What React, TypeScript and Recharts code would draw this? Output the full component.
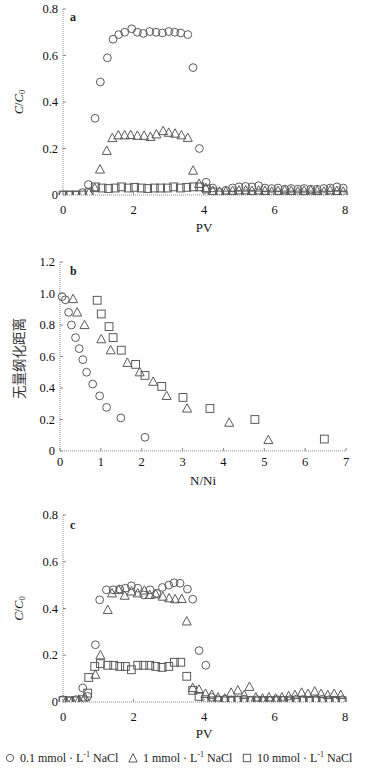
import React from 'react';
import { ScatterChart, Scatter, XAxis, YAxis } from 'recharts';

// ---------- Panel a ----------
const aCirclePV = [0, 0.18, 0.37, 0.55, 0.72, 0.91, 1.06, 1.26, 1.42, 1.58, 1.75, 1.95, 2.11, 2.28, 2.46, 2.64, 2.82, 3.0, 3.17, 3.34, 3.54, 3.69, 3.87, 4.06, 4.25, 4.44, 4.62, 4.81, 4.99, 5.18, 5.36, 5.55, 5.73, 5.92, 6.10, 6.29, 6.47, 6.66, 6.84, 7.03, 7.21, 7.40, 7.58, 7.77, 7.95];
const aCircleC = [0, 0, 0, 0.01, 0.045, 0.33, 0.486, 0.59, 0.67, 0.69, 0.70, 0.715, 0.70, 0.695, 0.703, 0.70, 0.697, 0.703, 0.70, 0.697, 0.69, 0.548, 0.20, 0.055, 0.03, 0.012, 0.02, 0.03, 0.035, 0.037, 0.035, 0.04, 0.03, 0.028, 0.03, 0.025, 0.028, 0.025, 0.028, 0.025, 0.025, 0.028, 0.03, 0.035, 0.03];
const aTrianglePV = [0.74, 0.9, 1.05, 1.24, 1.40, 1.57, 1.75, 1.92, 2.11, 2.30, 2.48, 2.65, 2.84, 3.0, 3.18, 3.36, 3.54, 3.69, 3.86, 4.05, 4.25, 4.44, 4.62, 4.81, 4.99, 5.18, 5.36, 5.55, 5.73, 5.92, 6.10, 6.29, 6.47, 6.66, 6.84, 7.03, 7.21, 7.40, 7.58, 7.77, 7.95];
const aTriangleC = [0.01, 0.03, 0.11, 0.19, 0.245, 0.257, 0.257, 0.258, 0.255, 0.255, 0.25, 0.261, 0.275, 0.268, 0.264, 0.257, 0.246, 0.105, 0.048, 0.03, 0.018, 0.015, 0.015, 0.018, 0.02, 0.02, 0.018, 0.02, 0.018, 0.015, 0.018, 0.02, 0.018, 0.015, 0.018, 0.02, 0.018, 0.015, 0.02, 0.018, 0.015];
const aSquarePV = [0, 0.18, 0.37, 0.55, 0.74, 0.92, 1.11, 1.29, 1.48, 1.66, 1.85, 2.03, 2.22, 2.40, 2.59, 2.77, 2.96, 3.14, 3.33, 3.51, 3.70, 3.88, 4.07, 4.25, 4.44, 4.62, 4.81, 4.99, 5.18, 5.36, 5.55, 5.73, 5.92, 6.10, 6.29, 6.47, 6.66, 6.84, 7.03, 7.21, 7.40, 7.58, 7.77, 7.95];
const aSquareC = [0, 0, 0, 0, 0.01, 0.035, 0.03, 0.028, 0.03, 0.035, 0.03, 0.033, 0.03, 0.028, 0.03, 0.03, 0.03, 0.035, 0.03, 0.033, 0.035, 0.035, 0.026, 0.013, 0, 0, 0, 0, 0, 0, 0, 0, 0, 0, 0, 0, 0, 0, 0, 0, 0, 0, 0, 0];

// ---------- Panel b ----------
const bCircleX = [0.05, 0.13, 0.21, 0.28, 0.38, 0.47, 0.56, 0.65, 0.80, 0.97, 1.14, 1.49, 2.08];
const bCircleY = [0.98, 0.96, 0.88, 0.80, 0.72, 0.65, 0.58, 0.50, 0.425, 0.35, 0.277, 0.21, 0.087];
const bTriangleX = [0.32, 0.42, 0.60, 1.01, 1.24, 1.65, 1.95, 2.28, 2.61, 3.11, 4.14, 5.10];
const bTriangleY = [0.965, 0.88, 0.80, 0.71, 0.64, 0.56, 0.50, 0.44, 0.35, 0.27, 0.18, 0.07];
const bSquareX = [0.91, 1.01, 1.20, 1.30, 1.50, 1.85, 2.08, 2.49, 3.01, 3.67, 4.77, 6.47];
const bSquareY = [0.957, 0.87, 0.79, 0.72, 0.64, 0.55, 0.48, 0.41, 0.34, 0.27, 0.20, 0.076];

// ---------- Panel c ----------
const cCirclePV = [0, 0.18, 0.37, 0.56, 0.70, 0.92, 1.04, 1.23, 1.42, 1.61, 1.77, 1.94, 2.12, 2.29, 2.47, 2.66, 2.82, 3.0, 3.15, 3.32, 3.53, 3.68, 3.86, 4.05, 4.22, 4.40, 4.59, 4.77, 4.96, 5.14, 5.33, 5.51, 5.70, 5.88, 6.07, 6.25, 6.44, 6.62, 6.81, 6.99, 7.18, 7.36, 7.55, 7.73, 7.92];
const cCircleC = [0.01, 0.005, 0.01, 0.06, 0.024, 0.245, 0.437, 0.48, 0.48, 0.483, 0.487, 0.497, 0.487, 0.458, 0.48, 0.465, 0.49, 0.50, 0.51, 0.508, 0.483, 0.44, 0.22, 0.157, 0.02, 0.01, 0.012, 0.008, 0.01, 0.012, 0.008, 0.01, 0.006, 0.008, 0.01, 0.008, 0.01, 0.012, 0.01, 0.008, 0.01, 0.012, 0.01, 0.008, 0.01];
const cTrianglePV = [0.08, 0.26, 0.45, 0.62, 0.92, 1.06, 1.27, 1.39, 1.58, 1.75, 1.94, 2.12, 2.31, 2.46, 2.63, 2.83, 3.01, 3.18, 3.37, 3.51, 3.68, 3.86, 4.04, 4.22, 4.40, 4.59, 4.77, 4.96, 5.14, 5.29, 5.47, 5.66, 5.84, 6.03, 6.21, 6.40, 6.58, 6.77, 6.95, 7.14, 7.32, 7.51, 7.69, 7.88];
const cTriangleC = [0.003, 0.005, 0.01, 0.02, 0.117, 0.20, 0.394, 0.465, 0.48, 0.455, 0.473, 0.465, 0.477, 0.458, 0.461, 0.451, 0.444, 0.44, 0.441, 0.345, 0.06, 0.053, 0.035, 0.031, 0.02, 0.015, 0.04, 0.05, 0.03, 0.065, 0.02, 0.015, 0.02, 0.015, 0.02, 0.025, 0.03, 0.04, 0.035, 0.045, 0.035, 0.03, 0.035, 0.03];
const cSquarePV = [0, 0.18, 0.37, 0.55, 0.70, 0.73, 0.90, 1.06, 1.27, 1.44, 1.61, 1.77, 1.94, 2.12, 2.29, 2.46, 2.63, 2.81, 3.0, 3.16, 3.34, 3.51, 3.68, 3.86, 4.04, 4.22, 4.40, 4.59, 4.77, 4.96, 5.14, 5.33, 5.51, 5.70, 5.88, 6.07, 6.25, 6.44, 6.62, 6.81, 6.99, 7.18, 7.36, 7.55, 7.73, 7.92];
const cSquareC = [0.006, 0.005, 0.005, 0.01, 0.038, 0.105, 0.152, 0.164, 0.157, 0.157, 0.152, 0.152, 0.138, 0.157, 0.157, 0.157, 0.152, 0.148, 0.152, 0.17, 0.17, 0.11, 0.05, 0.024, 0.01, 0.005, 0.006, 0.005, 0.004, 0.006, 0.005, 0.005, 0.004, 0.006, 0.005, 0.005, 0.006, 0.004, 0.005, 0.005, 0.006, 0.005, 0.004, 0.005, 0.006, 0.005];

// ---------- ticks & labels ----------
const pvTicks = [0, 2, 4, 6, 8];
const nTicks = [0, 1, 2, 3, 4, 5, 6, 7];
const cTicks = [0, 0.2, 0.4, 0.6, 0.8];
const bYTicks = [0, 0.2, 0.4, 0.6, 0.8, 1.0, 1.2];
const legendLabels = ['0.1', '1', '10'];

const zip = (xs: number[], ys: number[]) =>
  xs.slice(0, Math.min(xs.length, ys.length)).map((x, i) => ({ x, y: ys[i] }));

const SERIF = '"Liberation Serif", "Times New Roman", serif';
const MARK = '#5a5a5a';
const AXIS = '#8a8a8a';

const CircleMark = (p: any) => (
  <circle cx={p.cx} cy={p.cy} r={3.9} fill="none" stroke={MARK} strokeWidth={1} />
);
const TriMark = (p: any) => (
  <polygon
    points={`${p.cx},${p.cy - 4.8} ${p.cx - 4.5},${p.cy + 3.6} ${p.cx + 4.5},${p.cy + 3.6}`}
    fill="none"
    stroke={MARK}
    strokeWidth={1}
  />
);
const SqMark = (p: any) => (
  <rect x={p.cx - 3.9} y={p.cy - 3.9} width={7.8} height={7.8} fill="none" stroke={MARK} strokeWidth={1} />
);

const makeXTick = (dy: number) => (p: any) => (
  <g>
    <line x1={p.x} x2={p.x} y1={p.y} y2={p.y - 3} stroke={AXIS} />
    <text x={p.x} y={p.y + dy} textAnchor="middle" dominantBaseline="central" fontFamily={SERIF} fontSize={12.5} fill="#111">
      {p.payload.value}
    </text>
  </g>
);

const fmtY = (v: number, fixed: boolean) => (v === 0 ? '0' : fixed ? v.toFixed(1) : String(v));

const makeYTick = (fixed: boolean) => (p: any) => (
  <g>
    <line x1={p.x} x2={p.x + 3} y1={p.y} y2={p.y} stroke={AXIS} />
    <text x={p.x - 5} y={p.y} textAnchor="end" dominantBaseline="central" fontFamily={SERIF} fontSize={12.5} fill="#111">
      {fmtY(p.payload.value, fixed)}
    </text>
  </g>
);

const CC0Label = (letter: string, letterY: number) => (props: any) => {
  const vb = props.viewBox;
  const cy = vb.y + vb.height / 2;
  return (
    <g>
      <text
        x={19}
        y={cy}
        transform={`rotate(-90, 19, ${cy})`}
        textAnchor="middle"
        dominantBaseline="central"
        fontFamily={SERIF}
        fontSize={12.5}
        fill="#222"
      >
        <tspan fontStyle="italic">C</tspan>
        <tspan>/</tspan>
        <tspan fontStyle="italic">C</tspan>
        <tspan fontSize={8.5} dy={3}>0</tspan>
      </text>
      <text x={vb.x + vb.width + 7} y={letterY} dominantBaseline="central" fontFamily={SERIF} fontSize={12} fontWeight="bold" fill="#222">
        {letter}
      </text>
    </g>
  );
};

const CnLabel = (props: any) => {
  const vb = props.viewBox;
  const cy = vb.y + vb.height / 2 + 2;
  return (
    <g>
      <text
        x={18}
        y={cy}
        transform={`rotate(-90, 18, ${cy})`}
        textAnchor="middle"
        dominantBaseline="central"
        fontFamily='"Noto Sans CJK SC", sans-serif'
        fontSize={13.5}
        fill="#333"
      >
        无量纲化距离
      </text>
      <text x={vb.x + vb.width + 10} y={21} dominantBaseline="central" fontFamily={SERIF} fontSize={12} fontWeight="bold" fill="#222">
        b
      </text>
    </g>
  );
};

const makeXLabel = (text: string, dy: number) => (props: any) => {
  const vb = props.viewBox;
  return (
    <text x={vb.x + vb.width / 2} y={vb.y + dy} textAnchor="middle" dominantBaseline="central" fontFamily={SERIF} fontSize={13} fill="#111">
      {text}
    </text>
  );
};

const axisLine = { stroke: AXIS, strokeDasharray: '1 1', strokeWidth: 1 };

const Series = (c: any[], t: any[], s: any[]) => [
  <Scatter key="s" data={s} shape={SqMark} isAnimationActive={false} />,
  <Scatter key="t" data={t} shape={TriMark} isAnimationActive={false} />,
  <Scatter key="c" data={c} shape={CircleMark} isAnimationActive={false} />,
];

const LegendItem = ({ left, icon, label }: { left: number; icon: string; label: string }) => (
  <div style={{ position: 'absolute', left, top: 750, height: 16, display: 'flex', alignItems: 'center', fontFamily: SERIF, fontSize: 12, color: '#222', whiteSpace: 'nowrap' }}>
    <svg width={10} height={10} style={{ marginRight: 5 }}>
      {icon === 'c' && <circle cx={5} cy={5} r={3.6} fill="none" stroke={MARK} />}
      {icon === 't' && <polygon points="5,0.6 0.8,9 9.2,9" fill="none" stroke={MARK} />}
      {icon === 's' && <rect x={1.3} y={1.3} width={7.4} height={7.4} fill="none" stroke={MARK} />}
    </svg>
    <span>
      {label} mmol · L<sup style={{ fontSize: 8, verticalAlign: 'super', lineHeight: 0 }}>-1</sup> NaCl
    </span>
  </div>
);

export default function App() {
  const aC = zip(aCirclePV, aCircleC);
  const aT = zip(aTrianglePV, aTriangleC);
  const aS = zip(aSquarePV, aSquareC);
  const bC = zip(bCircleX, bCircleY);
  const bT = zip(bTriangleX, bTriangleY);
  const bS = zip(bSquareX, bSquareY);
  const cC = zip(cCirclePV, cCircleC);
  const cT = zip(cTrianglePV, cTriangleC);
  const cS = zip(cSquarePV, cSquareC);

  return (
    <div style={{ position: 'absolute', left: 0, top: 0, width: 372, height: 768, background: '#fff' }}>
      {/* panel a */}
      <div style={{ position: 'absolute', left: 0, top: 0 }}>
        <ScatterChart width={372} height={240} margin={{ top: 9, right: 27, bottom: 5, left: 0 }}>
          <XAxis
            type="number"
            dataKey="x"
            domain={[0, 8]}
            ticks={pvTicks}
            interval={0}
            height={40}
            tickSize={0}
            tickMargin={0}
            axisLine={axisLine}
            tickLine={false}
            tick={makeXTick(15)}
            label={{ content: makeXLabel('PV', 32) } as any}
          />
          <YAxis
            type="number"
            dataKey="y"
            domain={[0, 0.8]}
            ticks={cTicks}
            interval={0}
            width={63}
            tickSize={0}
            tickMargin={0}
            axisLine={axisLine}
            tickLine={false}
            tick={makeYTick(false)}
            allowDataOverflow
            label={{ content: CC0Label('a', 17) } as any}
          />
          {Series(aC, aT, aS)}
        </ScatterChart>
      </div>
      {/* panel b */}
      <div style={{ position: 'absolute', left: 0, top: 250 }}>
        <ScatterChart width={372} height={240} margin={{ top: 12, right: 26, bottom: 4, left: 0 }}>
          <XAxis
            type="number"
            dataKey="x"
            domain={[0, 7]}
            ticks={nTicks}
            interval={0}
            height={35}
            tickSize={0}
            tickMargin={0}
            axisLine={axisLine}
            tickLine={false}
            tick={makeXTick(11)}
            label={{ content: makeXLabel('N/Ni', 29) } as any}
          />
          <YAxis
            type="number"
            dataKey="y"
            domain={[0, 1.2]}
            ticks={bYTicks}
            interval={0}
            width={60}
            tickSize={0}
            tickMargin={0}
            axisLine={axisLine}
            tickLine={false}
            tick={makeYTick(true)}
            allowDataOverflow
            label={{ content: CnLabel } as any}
          />
          {Series(bC, bT, bS)}
        </ScatterChart>
      </div>
      {/* panel c */}
      <div style={{ position: 'absolute', left: 0, top: 500 }}>
        <ScatterChart width={372} height={240} margin={{ top: 15, right: 27, bottom: 4, left: 0 }}>
          <XAxis
            type="number"
            dataKey="x"
            domain={[0, 8]}
            ticks={pvTicks}
            interval={0}
            height={34}
            tickSize={0}
            tickMargin={0}
            axisLine={axisLine}
            tickLine={false}
            tick={makeXTick(15)}
            label={{ content: makeXLabel('PV', 31) } as any}
          />
          <YAxis
            type="number"
            dataKey="y"
            domain={[0, 0.8]}
            ticks={cTicks}
            interval={0}
            width={63}
            tickSize={0}
            tickMargin={0}
            axisLine={axisLine}
            tickLine={false}
            tick={makeYTick(false)}
            allowDataOverflow
            label={{ content: CC0Label('c', 25) } as any}
          />
          {Series(cC, cT, cS)}
        </ScatterChart>
      </div>
      {/* legend */}
      <LegendItem left={5} icon="c" label={legendLabels[0]} />
      <LegendItem left={128} icon="t" label={legendLabels[1]} />
      <LegendItem left={242} icon="s" label={legendLabels[2]} />
    </div>
  );
}
